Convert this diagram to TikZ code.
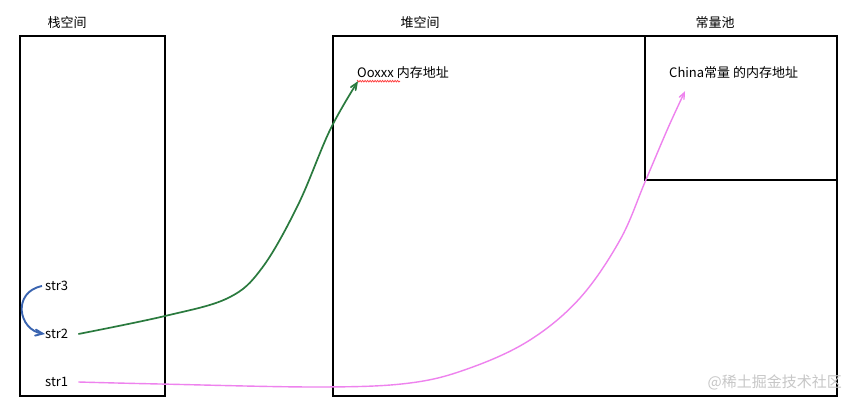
\documentclass[tikz,border=0pt]{standalone}
\usepackage{fontspec}
\setmainfont{Noto Sans CJK SC}
\usepackage{tikz}
\usetikzlibrary{arrows}
\usetikzlibrary{decorations.pathmorphing}
\definecolor{penGreen}{HTML}{2A7A3E}
\definecolor{penPink}{HTML}{EE82EE}
\definecolor{penBlue}{HTML}{3A64B0}

\begin{document}
\begin{tikzpicture}[x=1pt,y=-1pt,
    every node/.style={font=\fontsize{13}{15}\selectfont,inner sep=0pt},
    areabox/.style={draw=black,line width=1.4pt},
    greenline/.style={draw=penGreen,line width=1.7pt},
    pinkline/.style={draw=penPink,line width=1.4pt},
    blueline/.style={draw=penBlue,line width=1.9pt}]
  \useasboundingbox[fill=white] (0,0) rectangle (857,407);
  % the three areas
  \draw[areabox] (20,36) rectangle (165,396);
  \draw[areabox] (333,36) rectangle (837,396);
  \draw[areabox] (645,36) rectangle (837,180);
  \node (stacklabel) at (67,23) {栈空间};
  \node (heaplabel) at (420,23) {堆空间};
  \node (poollabel) at (715,23) {常量池};
  % variables
  \node[anchor=west] (str3) at (45,286) {str3};
  \node[anchor=west] (str2) at (45,334) {str2};
  \node[anchor=west] (str1) at (45,382) {str1};
  % addresses
  \node[anchor=west] (heapaddr) at (357,73) {Ooxxx 内存地址};
  \node[anchor=west] (pooladdr) at (669,73) {China常量 的内存地址};
  \draw[red!80,line width=0.7pt,decorate,
        decoration={zigzag,amplitude=0.8pt,segment length=2.5pt}]
                  ([yshift=-2pt]heapaddr.south west) -- ++(43,0);
  % references
  \draw[greenline,-angle 45]
                  plot[smooth,tension=0.6] coordinates {([xshift=10pt]str2.east)
                  (165,316) (228,298) (262,268) (298,205) (330,130)
                  ([xshift=1pt,yshift=-2pt]heapaddr.south west)};
  \draw[pinkline,-angle 45]
                  plot[smooth,tension=0.6] coordinates {([xshift=10pt]str1.east)
                  (160,384) (320,387) (410,383) (470,368) (530,340)
                  (580,298) (620,240) (645,182) (668,128)
                  ([xshift=16pt,yshift=-12pt]pooladdr.south west)};
  \draw[blueline,-angle 45]
                  ([xshift=-3pt]str3.west) .. controls (12,292) and (18,330)
                  .. (str2.west);
  % watermark
  \node[anchor=east,text=black!22,font=\fontsize{15}{17}\selectfont]
                  (mark) at (842,382) {@稀土掘金技术社区};
\end{tikzpicture}
\end{document}
